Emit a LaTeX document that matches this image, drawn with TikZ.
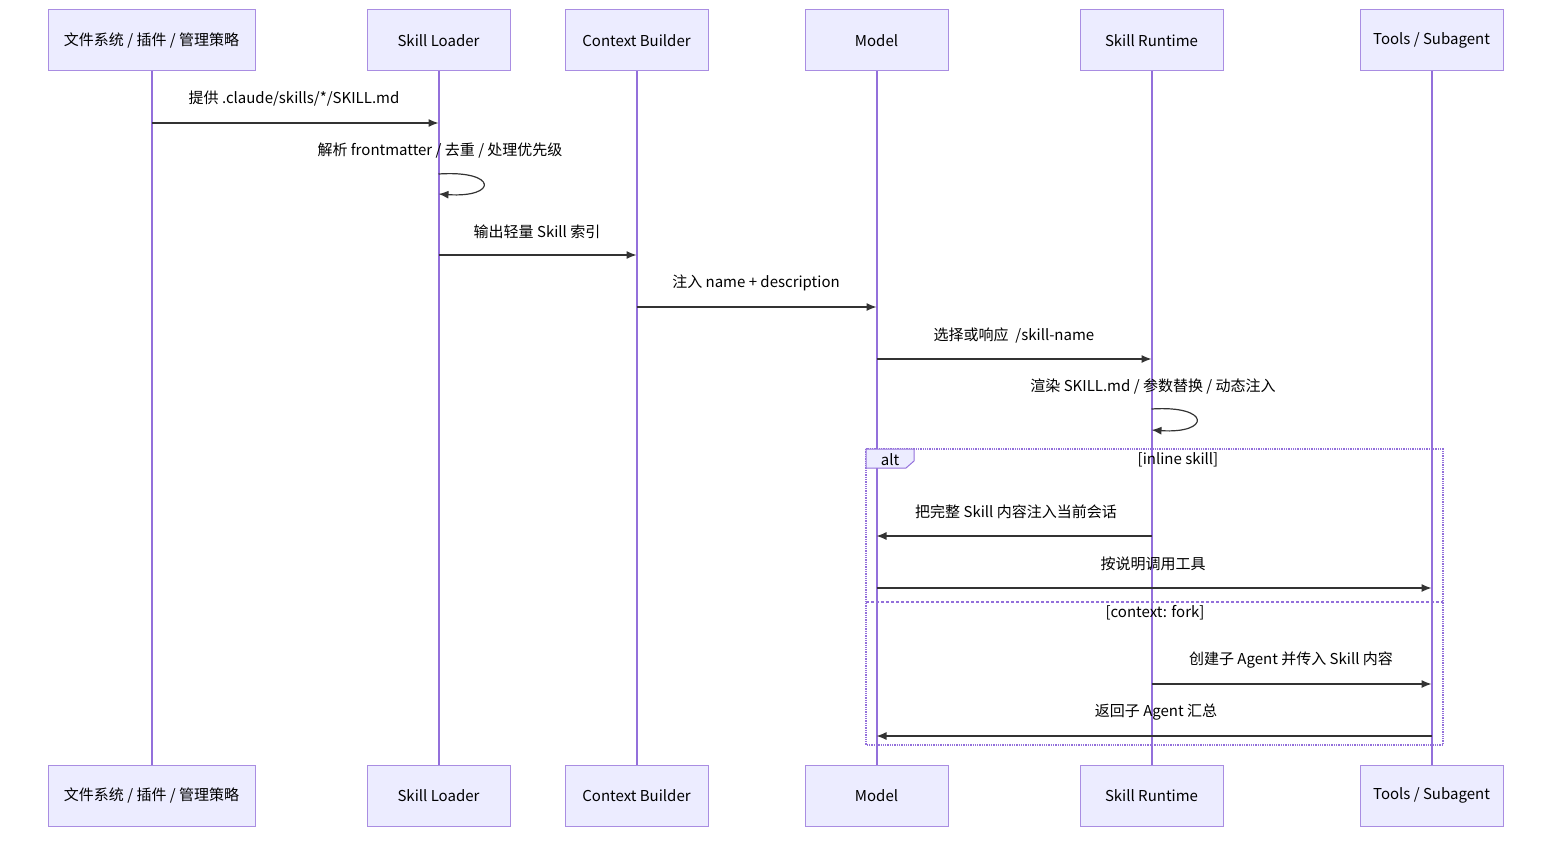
\documentclass[tikz,border=0pt]{standalone}
\usepackage{fontspec}
\setmainfont{Noto Sans CJK SC}
\usetikzlibrary{arrows.meta}
\definecolor{actfill}{HTML}{ECECFF}
\definecolor{actdraw}{HTML}{9370DB}
\definecolor{lnk}{HTML}{333333}
\begin{document}
\begin{tikzpicture}[x=1pt,y=-1pt,
  actor/.style={draw=actdraw!80,fill=actfill,line width=1pt,minimum height=61pt,inner sep=0pt,font=\fontsize{15}{17}\selectfont},
  life/.style={draw=actdraw,line width=2pt},
  msg/.style={draw=lnk,line width=1.2pt,-{Latex[length=10pt,width=8pt]}},
  lbl/.style={font=\fontsize{15}{17}\selectfont,text=black,inner sep=0pt}]
\useasboundingbox (0,0) rectangle (1568,848);
\foreach \i/\x/\w/\t in {a/151.5/207/{文件系统\ /\ 插件\ /\ 管理策略}, b/438.5/143/{Skill Loader}, c/636.5/143/{Context Builder}, d/876.5/143/{Model}, e/1151.5/143/{Skill Runtime}, f/1431.5/143/{Tools / Subagent}}{
  \node[actor,minimum width=\w pt] (\i t) at (\x,40.5) {\t};
  \node[actor,minimum width=\w pt] (\i b) at (\x,795.5) {\t};
  \draw[life] (\i t.south) -- (\i b.north);
}
% alt box
\draw[actdraw,line width=1.3pt,densely dotted] (866,449) rectangle (1443,745);
\draw[actdraw,line width=1.3pt,densely dashed] (866,602) -- (1443,602);
\draw[actdraw,fill=actfill,line width=1pt] (866,449) -- (914,449) -- (914,461) -- (906,468) -- (866,468) -- cycle;
\node[lbl] (alt) at (890,460) {alt};
\node[lbl] (c1) at (1178,460) {[inline skill]};
\node[lbl] (c2) at (1155,613) {[context: fork]};
% messages
\coordinate (m1a) at (151.5,123); \coordinate (m1b) at (438.5,123);
\draw[msg] (m1a) -- (m1b);
\node[lbl] (l1) at (294,99) {提供 .claude/skills/*/SKILL.md};
\coordinate (s1a) at (438.5,174); \coordinate (s1b) at (438.5,194);
\draw[msg] (s1a) .. controls (498,170) and (498,198) .. (s1b);
\node[lbl] (l2) at (440,151) {解析 frontmatter\ /\ 去重\ /\ 处理优先级};
\coordinate (m3a) at (438.5,255); \coordinate (m3b) at (636.5,255);
\draw[msg] (m3a) -- (m3b);
\node[lbl] (l3) at (537,232) {输出轻量 Skill 索引};
\coordinate (m4a) at (636.5,307); \coordinate (m4b) at (876.5,307);
\draw[msg] (m4a) -- (m4b);
\node[lbl] (l4) at (756,283) {注入 name + description};
\coordinate (m5a) at (876.5,359); \coordinate (m5b) at (1151.5,359);
\draw[msg] (m5a) -- (m5b);
\node[lbl] (l5) at (1014,335) {选择或响应\ \ /skill-name};
\coordinate (s6a) at (1151.5,409); \coordinate (s6b) at (1151.5,430);
\draw[msg] (s6a) .. controls (1211,405) and (1211,434) .. (s6b);
\node[lbl] (l6) at (1153,387) {渲染 SKILL.md\ /\ 参数替换\ /\ 动态注入};
\coordinate (m7a) at (1151.5,536); \coordinate (m7b) at (876.5,536);
\draw[msg] (m7a) -- (m7b);
\node[lbl] (l7) at (1016,512) {把完整 Skill 内容注入当前会话};
\coordinate (m8a) at (876.5,588); \coordinate (m8b) at (1431.5,588);
\draw[msg] (m8a) -- (m8b);
\node[lbl] (l8) at (1153,564) {按说明调用工具};
\coordinate (m9a) at (1151.5,684); \coordinate (m9b) at (1431.5,684);
\draw[msg] (m9a) -- (m9b);
\node[lbl] (l9) at (1291,660) {创建子 Agent 并传入 Skill 内容};
\coordinate (m10a) at (1431.5,736); \coordinate (m10b) at (876.5,736);
\draw[msg] (m10a) -- (m10b);
\node[lbl] (l10) at (1156,712) {返回子 Agent 汇总};
\end{tikzpicture}
\end{document}
